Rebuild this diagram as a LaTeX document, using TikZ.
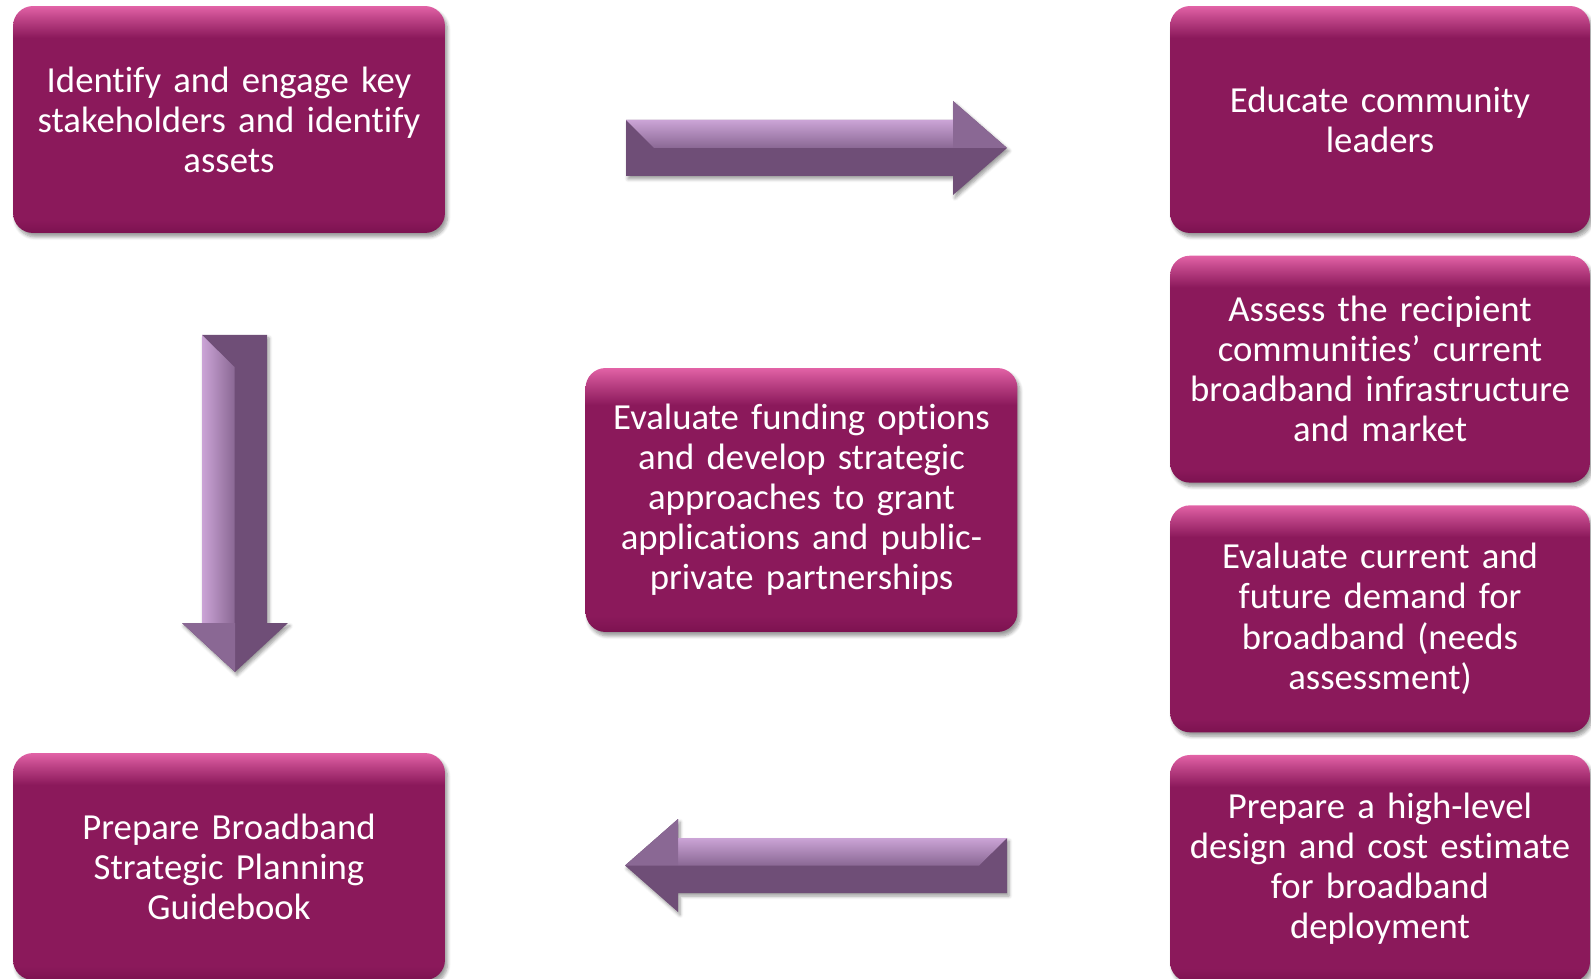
\documentclass[tikz,border=0pt]{standalone}
\usepackage{fontspec}
\setmainfont[Ligatures=NoCommon]{Carlito}
\usepackage{tikz}
\usetikzlibrary{shadows,shadows.blur}
\usetikzlibrary{positioning}

\definecolor{plum}{RGB}{139,25,91}
\definecolor{plumlight}{RGB}{226,98,166}
\definecolor{plumdark}{RGB}{124,18,80}
\definecolor{grape}{RGB}{111,78,119}
\definecolor{grapelight}{RGB}{203,164,214}
\definecolor{grapemid}{RGB}{138,104,148}

% box face: thin pink rim on top, a bit darker at the bottom
\pgfdeclareverticalshading{plumface}{100bp}{
	color(0bp)=(plumdark); color(25bp)=(plumdark); color(28bp)=(plum);
	color(68bp)=(plum); color(72bp)=(plumlight!55!plum);
	color(75bp)=(plumlight); color(100bp)=(plumlight)}

\tikzset{
	taskbox/.style={shading=plumface, rounded corners=0.4cm, inner sep=0pt,
		minimum height=4.54cm, align=center, text=white,
		font=\fontsize{20.9}{22.8}\selectfont,
		blur shadow={shadow xshift=0.05cm, shadow yshift=-0.08cm, shadow blur steps=6}},
	widebox/.style={taskbox, minimum width=8.64cm, text width=8.64cm},
	sidebox/.style={taskbox, minimum width=8.4cm, text width=8.4cm},
	blockarrow/.style={fill=grape,
		blur shadow={shadow xshift=0.04cm, shadow yshift=-0.06cm, shadow blur steps=5}},
}

\begin{document}
\begin{tikzpicture}[x=0.02cm, y=0.02cm]
	\useasboundingbox (0,0) rectangle (1591,978);
	\clip (0,0) rectangle (1591,978);

	% left column
	\node[widebox] (engage) at (229,858.5) {Identify and engage key\\stakeholders and identify\\assets};
	\node[widebox] (guide) at (229,111.5) {Prepare Broadband\\Strategic Planning\\Guidebook};

	% right column
	\node[sidebox] (educate) at (1380,858.5) {Educate community\\leaders};
	\node[sidebox, below=0.44cm of educate] (assess) {Assess the recipient\\communities’ current\\broadband infrastructure\\and market};
	\node[sidebox, below=0.44cm of assess] (demand) {Evaluate current and\\future demand for\\broadband (needs\\assessment)};
	\node[sidebox, below=0.44cm of demand] (design) {Prepare a high-level\\design and cost estimate\\for broadband\\deployment};

	% centre
	\node[widebox, minimum height=5.28cm] (funding) at (801.5,478) {Evaluate funding options\\and develop strategic\\approaches to grant\\applications and public-\\private partnerships};

	% arrow to the right
	\path[blockarrow] (626,858) -- (953,858) -- (953,877) -- (1007,830) -- (953,783) -- (953,802) -- (626,802) -- cycle;
	\shade[top color=grapelight, bottom color=grapemid] (626,858) -- (953,858) -- (953,830) -- (654,830) -- cycle;
	\fill[grapemid] (953,877) -- (1007,830) -- (953,830) -- cycle;

	% arrow down
	\path[blockarrow] (202,643) -- (267,643) -- (267,355) -- (288,355) -- (235,306) -- (182,355) -- (202,355) -- cycle;
	\shade[left color=grapelight, right color=grapemid] (202,643) -- (234.5,611) -- (234.5,355) -- (202,355) -- cycle;
	\fill[grapemid] (182,355) -- (235,306) -- (235,355) -- cycle;

	% arrow to the left
	\path[blockarrow] (1007,140) -- (678,140) -- (678,159) -- (625,112.5) -- (678,66) -- (678,85) -- (1007,85) -- cycle;
	\shade[top color=grapelight, bottom color=grapemid] (1007,140) -- (678,140) -- (678,112.5) -- (979,112.5) -- cycle;
	\fill[grapemid] (678,159) -- (625,112.5) -- (678,112.5) -- cycle;
\end{tikzpicture}
\end{document}
